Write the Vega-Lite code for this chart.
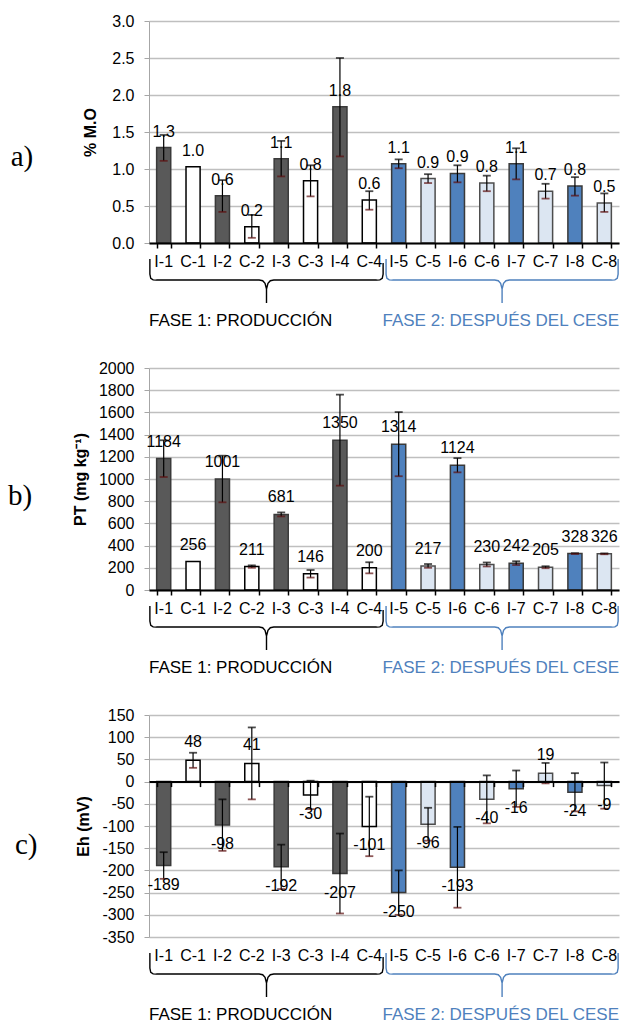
{
  "$schema": "https://vega.github.io/schema/vega-lite/v6.json",
  "padding": {"left": 8, "top": 13, "right": 0, "bottom": 0},
  "spacing": 31,
  "config": {
    "view": {"stroke": null},
    "font": "Liberation Sans",
    "locale": {"number": {"decimal": ".", "thousands": ",", "grouping": [3], "currency": ["$", ""], "minus": "-"}},
    "text": {"font": "Liberation Sans"},
    "axis": {
      "labelFont": "Liberation Sans",
      "labelFontSize": 16,
      "labelColor": "#000000",
      "titleFont": "Liberation Sans",
      "titleFontSize": 16,
      "titleFontWeight": "bold",
      "titleColor": "#000000"
    }
  },
  "datasets": {
    "mo": [
      {"muestra": "I-1", "serie": "I-F1", "valor": 1.29, "min": 1.11, "max": 1.46},
      {"muestra": "C-1", "serie": "C-F1", "valor": 1.03},
      {"muestra": "I-2", "serie": "I-F1", "valor": 0.64, "min": 0.42, "max": 0.85},
      {"muestra": "C-2", "serie": "C-F1", "valor": 0.22, "min": 0.07, "max": 0.38},
      {"muestra": "I-3", "serie": "I-F1", "valor": 1.14, "min": 0.90, "max": 1.38},
      {"muestra": "C-3", "serie": "C-F1", "valor": 0.84, "min": 0.63, "max": 1.05},
      {"muestra": "I-4", "serie": "I-F1", "valor": 1.84, "min": 1.17, "max": 2.50},
      {"muestra": "C-4", "serie": "C-F1", "valor": 0.58, "min": 0.45, "max": 0.70},
      {"muestra": "I-5", "serie": "I-F2", "valor": 1.07, "min": 1.01, "max": 1.13},
      {"muestra": "C-5", "serie": "C-F2", "valor": 0.87, "min": 0.81, "max": 0.93},
      {"muestra": "I-6", "serie": "I-F2", "valor": 0.94, "min": 0.82, "max": 1.05},
      {"muestra": "C-6", "serie": "C-F2", "valor": 0.81, "min": 0.70, "max": 0.91},
      {"muestra": "I-7", "serie": "I-F2", "valor": 1.07, "min": 0.86, "max": 1.28},
      {"muestra": "C-7", "serie": "C-F2", "valor": 0.70, "min": 0.60, "max": 0.80},
      {"muestra": "I-8", "serie": "I-F2", "valor": 0.77, "min": 0.64, "max": 0.89},
      {"muestra": "C-8", "serie": "C-F2", "valor": 0.54, "min": 0.42, "max": 0.67}
    ],
    "pt": [
      {"muestra": "I-1", "serie": "I-F1", "valor": 1184, "min": 1018, "max": 1349},
      {"muestra": "C-1", "serie": "C-F1", "valor": 256},
      {"muestra": "I-2", "serie": "I-F1", "valor": 1001, "min": 790, "max": 1210},
      {"muestra": "C-2", "serie": "C-F1", "valor": 211, "min": 200, "max": 222},
      {"muestra": "I-3", "serie": "I-F1", "valor": 681, "min": 663, "max": 699},
      {"muestra": "C-3", "serie": "C-F1", "valor": 146, "min": 112, "max": 180},
      {"muestra": "I-4", "serie": "I-F1", "valor": 1350, "min": 940, "max": 1760},
      {"muestra": "C-4", "serie": "C-F1", "valor": 200, "min": 150, "max": 250},
      {"muestra": "I-5", "serie": "I-F2", "valor": 1314, "min": 1025, "max": 1603},
      {"muestra": "C-5", "serie": "C-F2", "valor": 217, "min": 200, "max": 234},
      {"muestra": "I-6", "serie": "I-F2", "valor": 1124, "min": 1060, "max": 1188},
      {"muestra": "C-6", "serie": "C-F2", "valor": 230, "min": 212, "max": 248},
      {"muestra": "I-7", "serie": "I-F2", "valor": 242, "min": 225, "max": 259},
      {"muestra": "C-7", "serie": "C-F2", "valor": 205, "min": 196, "max": 214},
      {"muestra": "I-8", "serie": "I-F2", "valor": 328, "min": 324, "max": 332},
      {"muestra": "C-8", "serie": "C-F2", "valor": 326, "min": 322, "max": 330}
    ],
    "eh": [
      {"muestra": "I-1", "serie": "I-F1", "valor": -189, "min": -219, "max": -159},
      {"muestra": "C-1", "serie": "C-F1", "valor": 48, "min": 31, "max": 65},
      {"muestra": "I-2", "serie": "I-F1", "valor": -98, "min": -156, "max": -40},
      {"muestra": "C-2", "serie": "C-F1", "valor": 41, "min": -40, "max": 122},
      {"muestra": "I-3", "serie": "I-F1", "valor": -192, "min": -242, "max": -142},
      {"muestra": "C-3", "serie": "C-F1", "valor": -30, "min": -62, "max": 2},
      {"muestra": "I-4", "serie": "I-F1", "valor": -207, "min": -297, "max": -117},
      {"muestra": "C-4", "serie": "C-F1", "valor": -101, "min": -168, "max": -34},
      {"muestra": "I-5", "serie": "I-F2", "valor": -250, "min": -300, "max": -200},
      {"muestra": "C-5", "serie": "C-F2", "valor": -96, "min": -133, "max": -59},
      {"muestra": "I-6", "serie": "I-F2", "valor": -193, "min": -284, "max": -102},
      {"muestra": "C-6", "serie": "C-F2", "valor": -40, "min": -94, "max": 14},
      {"muestra": "I-7", "serie": "I-F2", "valor": -16, "min": -57, "max": 25},
      {"muestra": "C-7", "serie": "C-F2", "valor": 19, "min": -4, "max": 42},
      {"muestra": "I-8", "serie": "I-F2", "valor": -24, "min": -67, "max": 19},
      {"muestra": "C-8", "serie": "C-F2", "valor": -9, "min": -61, "max": 43}
    ],
    "llave": [
      {"fase": "1", "i": 0, "bx": 0.03, "by": -7.2},
      {"fase": "1", "i": 1, "bx": 0.03, "by": -14},
      {"fase": "1", "i": 2, "bx": 0.06, "by": -15.9},
      {"fase": "1", "i": 3, "bx": 0.14, "by": -16.6},
      {"fase": "1", "i": 4, "bx": 0.25, "by": -16.7},
      {"fase": "1", "i": 5, "bx": 3.75, "by": -16.7},
      {"fase": "1", "i": 6, "bx": 3.87, "by": -17.0},
      {"fase": "1", "i": 7, "bx": 3.95, "by": -18.2},
      {"fase": "1", "i": 8, "bx": 4.0, "by": -20.7},
      {"fase": "1", "i": 9, "bx": 4.0, "by": -27},
      {"fase": "1", "i": 10, "bx": 4.0, "by": -20.7},
      {"fase": "1", "i": 11, "bx": 4.05, "by": -18.2},
      {"fase": "1", "i": 12, "bx": 4.13, "by": -17.0},
      {"fase": "1", "i": 13, "bx": 4.25, "by": -16.7},
      {"fase": "1", "i": 14, "bx": 7.75, "by": -16.7},
      {"fase": "1", "i": 15, "bx": 7.86, "by": -16.6},
      {"fase": "1", "i": 16, "bx": 7.94, "by": -15.9},
      {"fase": "1", "i": 17, "bx": 7.97, "by": -14},
      {"fase": "1", "i": 18, "bx": 7.97, "by": -9},
      {"fase": "2", "i": 0, "bx": 8.07, "by": -7.2},
      {"fase": "2", "i": 1, "bx": 8.07, "by": -14},
      {"fase": "2", "i": 2, "bx": 8.1, "by": -15.9},
      {"fase": "2", "i": 3, "bx": 8.18, "by": -16.6},
      {"fase": "2", "i": 4, "bx": 8.29, "by": -16.7},
      {"fase": "2", "i": 5, "bx": 11.77, "by": -16.7},
      {"fase": "2", "i": 6, "bx": 11.89, "by": -17.0},
      {"fase": "2", "i": 7, "bx": 11.97, "by": -18.2},
      {"fase": "2", "i": 8, "bx": 12.02, "by": -20.7},
      {"fase": "2", "i": 9, "bx": 12.02, "by": -27},
      {"fase": "2", "i": 10, "bx": 12.02, "by": -20.7},
      {"fase": "2", "i": 11, "bx": 12.07, "by": -18.2},
      {"fase": "2", "i": 12, "bx": 12.15, "by": -17.0},
      {"fase": "2", "i": 13, "bx": 12.27, "by": -16.7},
      {"fase": "2", "i": 14, "bx": 15.75, "by": -16.7},
      {"fase": "2", "i": 15, "bx": 15.86, "by": -16.6},
      {"fase": "2", "i": 16, "bx": 15.94, "by": -15.9},
      {"fase": "2", "i": 17, "bx": 15.97, "by": -14},
      {"fase": "2", "i": 18, "bx": 15.97, "by": -7.2}
    ],
    "fases": [
      {"fase": "1", "texto": "FASE 1: PRODUCCIÓN", "bx": 0, "by": -35},
      {"fase": "2", "texto": "FASE 2: DESPUÉS DEL CESE", "bx": 16, "by": -35}
    ]
  },
  "vconcat": [
    {
      "width": 470,
      "height": 222,
      "title": {"text": "a)", "orient": "left", "anchor": "middle", "angle": 0, "align": "right", "baseline": "middle", "dy": 25, "font": "Liberation Serif", "fontSize": 29, "fontWeight": "normal", "color": "#000000", "offset": 27},
      "resolve": {"scale": {"x": "independent", "y": "independent"}, "axis": {"x": "independent", "y": "independent"}},
      "layer": [
        {
          "data": {"name": "mo"},
          "resolve": {"axis": {"x": "independent", "y": "independent"}},
          "layer": [
            {
              "mark": {"type": "bar", "strokeWidth": 1.5},
              "encoding": {
                "x": {"field": "muestra", "type": "nominal", "sort": null, "scale": {"paddingInner": 0.52, "paddingOuter": 0.26},
                      "axis": {"title": null, "domain": false, "ticks": false, "grid": false, "labelAngle": 0, "labelPadding": 10}},
                "y": {"field": "valor", "type": "quantitative", "scale": {"domain": [0, 3], "nice": false},
                      "axis": {"orient": "left", "title": "% M.O", "values": [0, 0.5, 1, 1.5, 2, 2.5, 3], "format": ".1f", "grid": true, "gridColor": "#bfbfbf", "gridWidth": 1.3, "domainColor": "#a6a6a6", "tickColor": "#a6a6a6", "tickSize": 5, "labelPadding": 10, "titlePadding": 13}},
                "fill": {"field": "serie", "type": "nominal", "legend": null, "scale": {"domain": ["I-F1", "C-F1", "I-F2", "C-F2"], "range": ["#595959", "#ffffff", "#4f81bd", "#dce6f2"]}},
                "stroke": {"field": "serie", "type": "nominal", "legend": null, "scale": {"domain": ["I-F1", "C-F1", "I-F2", "C-F2"], "range": ["#3a3a3a", "#000000", "#3a3a3a", "#4d4d4d"]}}
              }
            },
            {
              "transform": [{"filter": "isValid(datum.min)"}],
              "mark": {"type": "rule", "color": "#000000", "strokeWidth": 1.2},
              "encoding": {
                "x": {"field": "muestra", "type": "nominal", "sort": null,
                      "axis": {"orient": "bottom", "offset": 0, "zindex": 1, "title": null, "labels": false, "grid": false, "domain": true, "domainColor": "#000000", "domainWidth": 2, "ticks": true, "tickColor": "#000000", "tickWidth": 1.5, "tickSize": 5, "tickBand": "extent"}},
                "y": {"field": "min", "type": "quantitative", "scale": {"domain": [0, 3], "nice": false}, "axis": null},
                "y2": {"field": "max"}
              }
            },
            {
              "transform": [{"filter": "isValid(datum.max)"}],
              "mark": {"type": "tick", "color": "#000000", "size": 8, "thickness": 1.8},
              "encoding": {
                "x": {"field": "muestra", "type": "nominal", "sort": null, "axis": null},
                "y": {"field": "max", "type": "quantitative", "scale": {"domain": [0, 3], "nice": false}, "axis": null}
              }
            },
            {
              "transform": [{"filter": "isValid(datum.min)"}],
              "mark": {"type": "tick", "color": "#5c0f0f", "size": 8, "thickness": 1.8},
              "encoding": {
                "x": {"field": "muestra", "type": "nominal", "sort": null, "axis": null},
                "y": {"field": "min", "type": "quantitative", "scale": {"domain": [0, 3], "nice": false}, "axis": null}
              }
            },
            {
              "mark": {"type": "text", "dy": -16, "fontSize": 16, "color": "#000000", "baseline": "middle"},
              "encoding": {
                "x": {"field": "muestra", "type": "nominal", "sort": null, "axis": null},
                "y": {"field": "valor", "type": "quantitative", "scale": {"domain": [0, 3], "nice": false}, "axis": null},
                "text": {"field": "valor", "type": "quantitative", "format": ".1f"}
              }
            }
          ]
        },
        {
          "layer": [
            {
              "data": {"name": "llave"},
              "mark": {"type": "line", "strokeWidth": 1.4, "clip": false},
              "encoding": {
                "x": {"field": "bx", "type": "quantitative", "scale": {"domain": [0, 16], "nice": false, "zero": false}, "axis": null},
                "y": {"field": "by", "type": "quantitative", "scale": {"domain": [0, 100], "nice": false}, "axis": null},
                "color": {"field": "fase", "type": "nominal", "legend": null, "scale": {"domain": ["1", "2"], "range": ["#000000", "#4f81bd"]}},
                "order": {"field": "i", "type": "quantitative"}
              }
            },
            {
              "data": {"name": "fases"},
              "transform": [{"filter": "datum.fase == '1'"}],
              "mark": {"type": "text", "align": "left", "baseline": "middle", "fontSize": 17, "color": "#000000"},
              "encoding": {
                "x": {"field": "bx", "type": "quantitative", "axis": null},
                "y": {"field": "by", "type": "quantitative", "axis": null},
                "text": {"field": "texto"}
              }
            },
            {
              "data": {"name": "fases"},
              "transform": [{"filter": "datum.fase == '2'"}],
              "mark": {"type": "text", "align": "right", "baseline": "middle", "fontSize": 17, "color": "#4f81bd"},
              "encoding": {
                "x": {"field": "bx", "type": "quantitative", "axis": null},
                "y": {"field": "by", "type": "quantitative", "axis": null},
                "text": {"field": "texto"}
              }
            }
          ]
        }
      ]
    },
    {
      "width": 470,
      "height": 222,
      "title": {"text": "b)", "orient": "left", "anchor": "middle", "angle": 0, "align": "right", "baseline": "middle", "dy": 17, "font": "Liberation Serif", "fontSize": 29, "fontWeight": "normal", "color": "#000000", "offset": 16},
      "resolve": {"scale": {"x": "independent", "y": "independent"}, "axis": {"x": "independent", "y": "independent"}},
      "layer": [
        {
          "data": {"name": "pt"},
          "resolve": {"axis": {"x": "independent", "y": "independent"}},
          "layer": [
            {
              "mark": {"type": "bar", "strokeWidth": 1.5},
              "encoding": {
                "x": {"field": "muestra", "type": "nominal", "sort": null, "scale": {"paddingInner": 0.52, "paddingOuter": 0.26},
                      "axis": {"title": null, "domain": false, "ticks": false, "grid": false, "labelAngle": 0, "labelPadding": 10}},
                "y": {"field": "valor", "type": "quantitative", "scale": {"domain": [0, 2000], "nice": false},
                      "axis": {"orient": "left", "title": "PT (mg kg⁻¹)", "values": [0, 200, 400, 600, 800, 1000, 1200, 1400, 1600, 1800, 2000], "format": "d", "grid": true, "gridColor": "#bfbfbf", "gridWidth": 1.3, "domainColor": "#a6a6a6", "tickColor": "#a6a6a6", "tickSize": 5, "labelPadding": 10, "titlePadding": 10}},
                "fill": {"field": "serie", "type": "nominal", "legend": null, "scale": {"domain": ["I-F1", "C-F1", "I-F2", "C-F2"], "range": ["#595959", "#ffffff", "#4f81bd", "#dce6f2"]}},
                "stroke": {"field": "serie", "type": "nominal", "legend": null, "scale": {"domain": ["I-F1", "C-F1", "I-F2", "C-F2"], "range": ["#3a3a3a", "#000000", "#3a3a3a", "#4d4d4d"]}}
              }
            },
            {
              "transform": [{"filter": "isValid(datum.min)"}],
              "mark": {"type": "rule", "color": "#000000", "strokeWidth": 1.2},
              "encoding": {
                "x": {"field": "muestra", "type": "nominal", "sort": null,
                      "axis": {"orient": "bottom", "offset": 0, "zindex": 1, "title": null, "labels": false, "grid": false, "domain": true, "domainColor": "#000000", "domainWidth": 2, "ticks": true, "tickColor": "#000000", "tickWidth": 1.5, "tickSize": 5, "tickBand": "extent"}},
                "y": {"field": "min", "type": "quantitative", "scale": {"domain": [0, 2000], "nice": false}, "axis": null},
                "y2": {"field": "max"}
              }
            },
            {
              "transform": [{"filter": "isValid(datum.max)"}],
              "mark": {"type": "tick", "color": "#000000", "size": 8, "thickness": 1.8},
              "encoding": {
                "x": {"field": "muestra", "type": "nominal", "sort": null, "axis": null},
                "y": {"field": "max", "type": "quantitative", "scale": {"domain": [0, 2000], "nice": false}, "axis": null}
              }
            },
            {
              "transform": [{"filter": "isValid(datum.min)"}],
              "mark": {"type": "tick", "color": "#5c0f0f", "size": 8, "thickness": 1.8},
              "encoding": {
                "x": {"field": "muestra", "type": "nominal", "sort": null, "axis": null},
                "y": {"field": "min", "type": "quantitative", "scale": {"domain": [0, 2000], "nice": false}, "axis": null}
              }
            },
            {
              "mark": {"type": "text", "dy": -17, "fontSize": 16, "color": "#000000", "baseline": "middle"},
              "encoding": {
                "x": {"field": "muestra", "type": "nominal", "sort": null, "axis": null},
                "y": {"field": "valor", "type": "quantitative", "scale": {"domain": [0, 2000], "nice": false}, "axis": null},
                "text": {"field": "valor", "type": "quantitative", "format": "d"}
              }
            }
          ]
        },
        {
          "layer": [
            {
              "data": {"name": "llave"},
              "mark": {"type": "line", "strokeWidth": 1.4, "clip": false},
              "encoding": {
                "x": {"field": "bx", "type": "quantitative", "scale": {"domain": [0, 16], "nice": false, "zero": false}, "axis": null},
                "y": {"field": "by", "type": "quantitative", "scale": {"domain": [0, 100], "nice": false}, "axis": null},
                "color": {"field": "fase", "type": "nominal", "legend": null, "scale": {"domain": ["1", "2"], "range": ["#000000", "#4f81bd"]}},
                "order": {"field": "i", "type": "quantitative"}
              }
            },
            {
              "data": {"name": "fases"},
              "transform": [{"filter": "datum.fase == '1'"}],
              "mark": {"type": "text", "align": "left", "baseline": "middle", "fontSize": 17, "color": "#000000"},
              "encoding": {
                "x": {"field": "bx", "type": "quantitative", "axis": null},
                "y": {"field": "by", "type": "quantitative", "axis": null},
                "text": {"field": "texto"}
              }
            },
            {
              "data": {"name": "fases"},
              "transform": [{"filter": "datum.fase == '2'"}],
              "mark": {"type": "text", "align": "right", "baseline": "middle", "fontSize": 17, "color": "#4f81bd"},
              "encoding": {
                "x": {"field": "bx", "type": "quantitative", "axis": null},
                "y": {"field": "by", "type": "quantitative", "axis": null},
                "text": {"field": "texto"}
              }
            }
          ]
        }
      ]
    },
    {
      "width": 470,
      "height": 222,
      "title": {"text": "c)", "orient": "left", "anchor": "middle", "angle": 0, "align": "right", "baseline": "middle", "dy": 19, "font": "Liberation Serif", "fontSize": 29, "fontWeight": "normal", "color": "#000000", "offset": 16},
      "resolve": {"scale": {"x": "independent", "y": "independent"}, "axis": {"x": "independent", "y": "independent"}},
      "layer": [
        {
          "data": {"name": "eh"},
          "resolve": {"axis": {"x": "independent", "y": "independent"}},
          "layer": [
            {
              "mark": {"type": "bar", "strokeWidth": 1.5},
              "encoding": {
                "x": {"field": "muestra", "type": "nominal", "sort": null, "scale": {"paddingInner": 0.52, "paddingOuter": 0.26},
                      "axis": {"title": null, "domain": false, "ticks": false, "grid": false, "labelAngle": 0, "labelPadding": 10}},
                "y": {"field": "valor", "type": "quantitative", "scale": {"domain": [-350, 150], "nice": false},
                      "axis": {"orient": "left", "title": "Eh (mV)", "values": [-350, -300, -250, -200, -150, -100, -50, 0, 50, 100, 150], "format": "d", "grid": true, "gridColor": "#bfbfbf", "gridWidth": 1.3, "domainColor": "#a6a6a6", "tickColor": "#a6a6a6", "tickSize": 5, "labelPadding": 10, "titlePadding": 10}},
                "fill": {"field": "serie", "type": "nominal", "legend": null, "scale": {"domain": ["I-F1", "C-F1", "I-F2", "C-F2"], "range": ["#595959", "#ffffff", "#4f81bd", "#dce6f2"]}},
                "stroke": {"field": "serie", "type": "nominal", "legend": null, "scale": {"domain": ["I-F1", "C-F1", "I-F2", "C-F2"], "range": ["#3a3a3a", "#000000", "#3a3a3a", "#4d4d4d"]}}
              }
            },
            {
              "transform": [{"filter": "isValid(datum.min)"}],
              "mark": {"type": "rule", "color": "#000000", "strokeWidth": 1.2},
              "encoding": {
                "x": {"field": "muestra", "type": "nominal", "sort": null,
                      "axis": {"orient": "bottom", "offset": -155.4, "zindex": 1, "title": null, "labels": false, "grid": false, "domain": true, "domainColor": "#000000", "domainWidth": 2, "ticks": true, "tickColor": "#000000", "tickWidth": 1.5, "tickSize": 5, "tickBand": "extent"}},
                "y": {"field": "min", "type": "quantitative", "scale": {"domain": [-350, 150], "nice": false}, "axis": null},
                "y2": {"field": "max"}
              }
            },
            {
              "transform": [{"filter": "isValid(datum.max)"}],
              "mark": {"type": "tick", "color": "#000000", "size": 8, "thickness": 1.8},
              "encoding": {
                "x": {"field": "muestra", "type": "nominal", "sort": null, "axis": null},
                "y": {"field": "max", "type": "quantitative", "scale": {"domain": [-350, 150], "nice": false}, "axis": null}
              }
            },
            {
              "transform": [{"filter": "isValid(datum.min)"}],
              "mark": {"type": "tick", "color": "#5c0f0f", "size": 8, "thickness": 1.8},
              "encoding": {
                "x": {"field": "muestra", "type": "nominal", "sort": null, "axis": null},
                "y": {"field": "min", "type": "quantitative", "scale": {"domain": [-350, 150], "nice": false}, "axis": null}
              }
            },
            {
              "transform": [{"filter": "datum.valor >= 0"}],
              "mark": {"type": "text", "dy": -18, "fontSize": 16, "color": "#000000", "baseline": "middle"},
              "encoding": {
                "x": {"field": "muestra", "type": "nominal", "sort": null, "axis": null},
                "y": {"field": "valor", "type": "quantitative", "scale": {"domain": [-350, 150], "nice": false}, "axis": null},
                "text": {"field": "valor", "type": "quantitative", "format": "d"}
              }
            },
            {
              "transform": [{"filter": "datum.valor < 0"}],
              "mark": {"type": "text", "dy": 19, "fontSize": 16, "color": "#000000", "baseline": "middle"},
              "encoding": {
                "x": {"field": "muestra", "type": "nominal", "sort": null, "axis": null},
                "y": {"field": "valor", "type": "quantitative", "scale": {"domain": [-350, 150], "nice": false}, "axis": null},
                "text": {"field": "valor", "type": "quantitative", "format": "d"}
              }
            }
          ]
        },
        {
          "layer": [
            {
              "data": {"name": "llave"},
              "mark": {"type": "line", "strokeWidth": 1.4, "clip": false},
              "encoding": {
                "x": {"field": "bx", "type": "quantitative", "scale": {"domain": [0, 16], "nice": false, "zero": false}, "axis": null},
                "y": {"field": "by", "type": "quantitative", "scale": {"domain": [0, 100], "nice": false}, "axis": null},
                "color": {"field": "fase", "type": "nominal", "legend": null, "scale": {"domain": ["1", "2"], "range": ["#000000", "#4f81bd"]}},
                "order": {"field": "i", "type": "quantitative"}
              }
            },
            {
              "data": {"name": "fases"},
              "transform": [{"filter": "datum.fase == '1'"}],
              "mark": {"type": "text", "align": "left", "baseline": "middle", "fontSize": 17, "color": "#000000"},
              "encoding": {
                "x": {"field": "bx", "type": "quantitative", "axis": null},
                "y": {"field": "by", "type": "quantitative", "axis": null},
                "text": {"field": "texto"}
              }
            },
            {
              "data": {"name": "fases"},
              "transform": [{"filter": "datum.fase == '2'"}],
              "mark": {"type": "text", "align": "right", "baseline": "middle", "fontSize": 17, "color": "#4f81bd"},
              "encoding": {
                "x": {"field": "bx", "type": "quantitative", "axis": null},
                "y": {"field": "by", "type": "quantitative", "axis": null},
                "text": {"field": "texto"}
              }
            }
          ]
        }
      ]
    }
  ]
}
